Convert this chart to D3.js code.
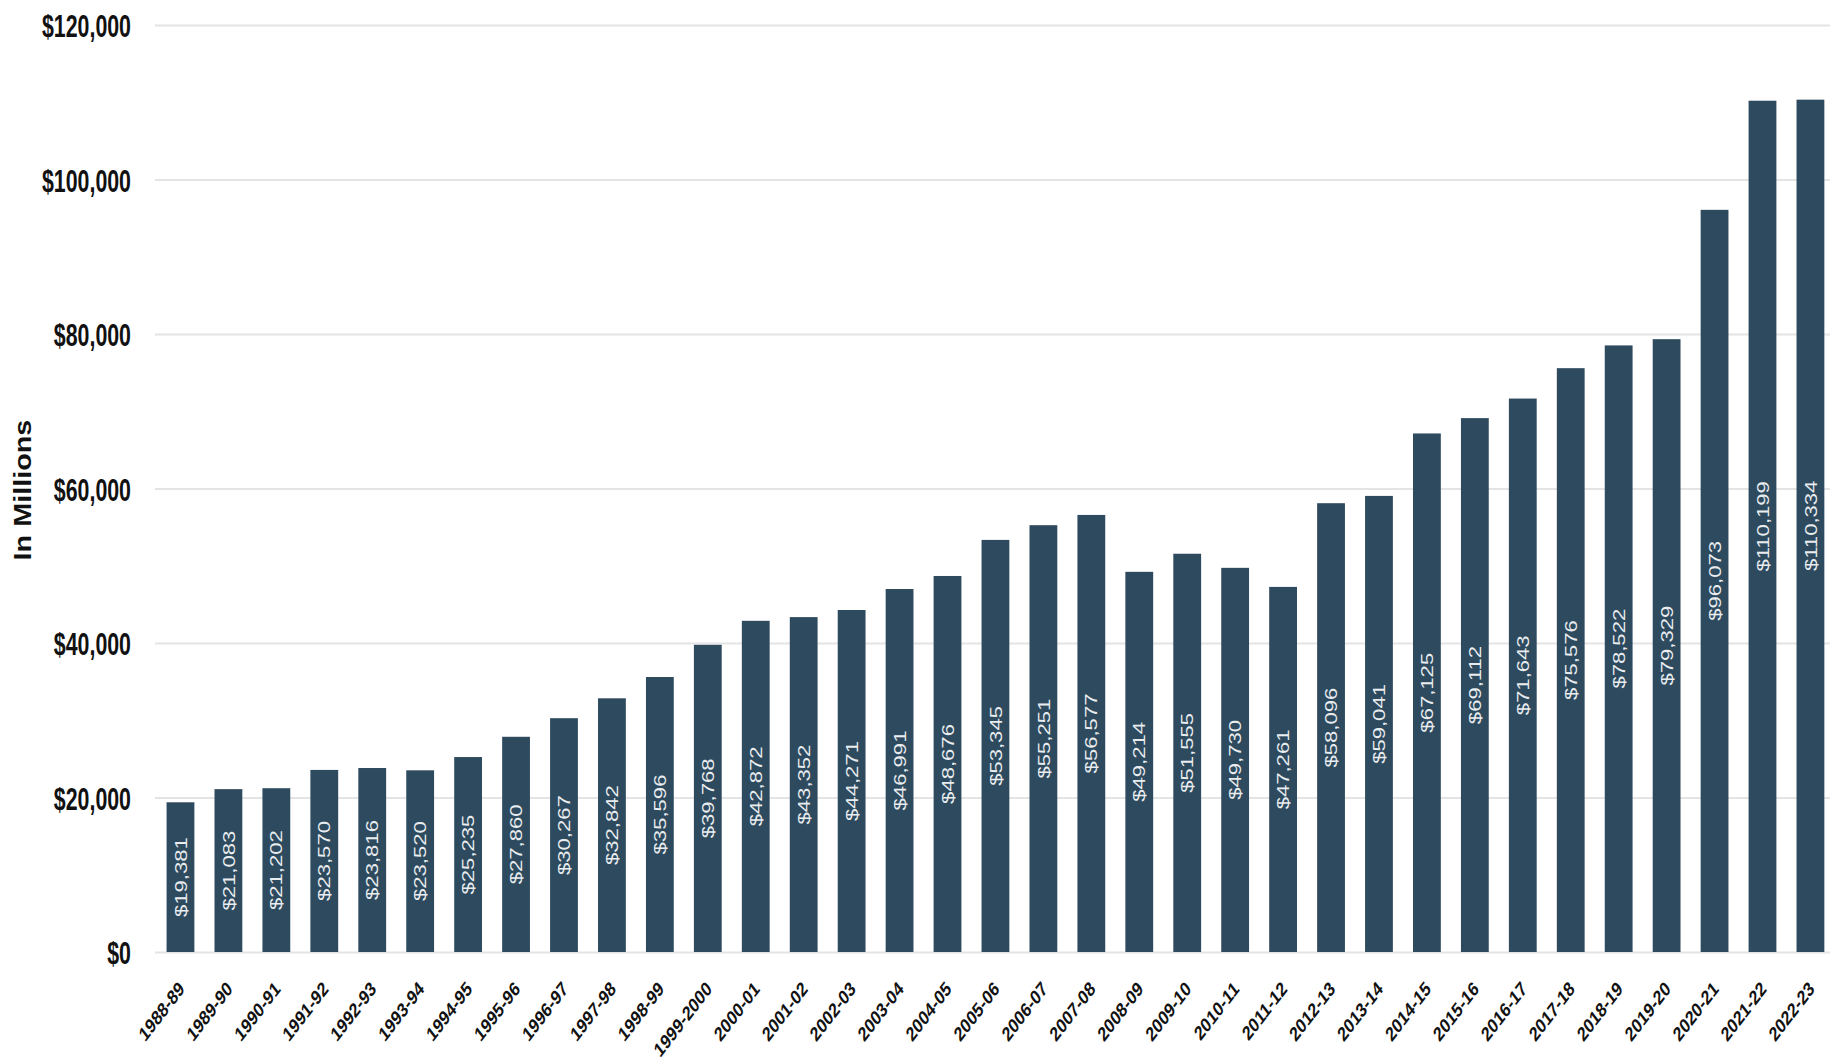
<!DOCTYPE html>
<html>
<head>
<meta charset="utf-8">
<script src="https://cdn.jsdelivr.net/npm/d3@7"></script>
<style>
  html, body { margin: 0; padding: 0; background: #ffffff; }
  svg { display: block; }
  text { font-family: "Liberation Sans", Arial, sans-serif; }
</style>
</head>
<body>
<svg id="chart" width="1831" height="1063"></svg>
<script>
// Fiscal years shown along the bottom axis
const years = [
  "1988-89", "1989-90", "1990-91", "1991-92", "1992-93", "1993-94", "1994-95",
  "1995-96", "1996-97", "1997-98", "1998-99", "1999-2000", "2000-01", "2001-02",
  "2002-03", "2003-04", "2004-05", "2005-06", "2006-07", "2007-08", "2008-09",
  "2009-10", "2010-11", "2011-12", "2012-13", "2013-14", "2014-15", "2015-16",
  "2016-17", "2017-18", "2018-19", "2019-20", "2020-21", "2021-22", "2022-23"
];

// Amounts in millions of dollars, one per fiscal year
const amounts = [
  19381, 21083, 21202, 23570, 23816, 23520, 25235,
  27860, 30267, 32842, 35596, 39768, 42872, 43352,
  44271, 46991, 48676, 53345, 55251, 56577, 49214,
  51555, 49730, 47261, 58096, 59041, 67125, 69112,
  71643, 75576, 78522, 79329, 96073, 110199, 110334
];

// Value-axis ticks
const yTicks = [0, 20000, 40000, 60000, 80000, 100000, 120000];
const yLabel = "In Millions";

const data = years.map((yr, i) => ({ year: yr, value: amounts[i] }));

const svg = d3.select("#chart");
const barColor = "#2e4a5e";
const gridColor = "#e4e4e4";
const money = d3.format("$,");

const x = d3.scaleBand()
  .domain(years)
  .range([156.5, 1834.4])
  .paddingInner(0.42)
  .paddingOuter(0.21);

const y = d3.scaleLinear()
  .domain([0, 120000])
  .range([952, 25]);

// Horizontal gridlines
const grid = svg.append("g")
  .attr("transform", "translate(1830,0)")
  .call(d3.axisLeft(y).tickValues(yTicks).tickSize(1830 - 155).tickFormat(""));
grid.select(".domain").remove();
grid.selectAll(".tick line")
  .attr("stroke", gridColor)
  .attr("stroke-width", 2);

// Value axis labels
const yAxis = svg.append("g")
  .attr("transform", "translate(131,0)")
  .call(d3.axisLeft(y).tickValues(yTicks).tickSize(0).tickFormat(d => money(d)));
yAxis.select(".domain").remove();
yAxis.selectAll(".tick text")
  .attr("x", 0)
  .attr("dy", "0.36em")
  .attr("text-anchor", "end")
  .attr("transform", "scale(0.89,1.34)")
  .attr("fill", "#111")
  .style("font-size", "24px")
  .style("font-weight", "bold");

// Axis title
svg.append("text")
  .attr("transform", "translate(22,490) scale(1,1.2) rotate(-90)")
  .attr("text-anchor", "middle")
  .attr("dy", "0.36em")
  .attr("fill", "#111")
  .style("font-size", "24px")
  .style("font-weight", "bold")
  .text(yLabel);

// Bars
svg.append("g")
  .selectAll("rect")
  .data(data)
  .join("rect")
  .attr("x", d => x(d.year))
  .attr("y", d => y(d.value))
  .attr("width", x.bandwidth())
  .attr("height", d => y(0) - y(d.value))
  .attr("fill", barColor);

// Value labels inside each bar
svg.append("g")
  .selectAll("text")
  .data(data)
  .join("text")
  .attr("transform", d => {
    const cx = x(d.year) + x.bandwidth() / 2;
    const cy = (y(d.value) + y(0)) / 2;
    return `translate(${cx},${cy}) scale(1,1.3) rotate(-90)`;
  })
  .attr("text-anchor", "middle")
  .attr("dy", "0.36em")
  .attr("fill", "#e9edf0")
  .style("font-size", "17px")
  .text(d => money(d.value));

// Category axis
const xAxis = svg.append("g")
  .attr("transform", `translate(0,${y(0)})`)
  .call(d3.axisBottom(x).tickSize(0));
xAxis.select(".domain").remove();
xAxis.selectAll(".tick text")
  .attr("x", 0)
  .attr("y", 0)
  .attr("dy", "0.36em")
  .attr("text-anchor", "end")
  .attr("transform", "translate(1,33) scale(1,1.3) rotate(-45)")
  .attr("fill", "#111")
  .style("font-size", "15.5px")
  .style("font-weight", "bold");
</script>
</body>
</html>
